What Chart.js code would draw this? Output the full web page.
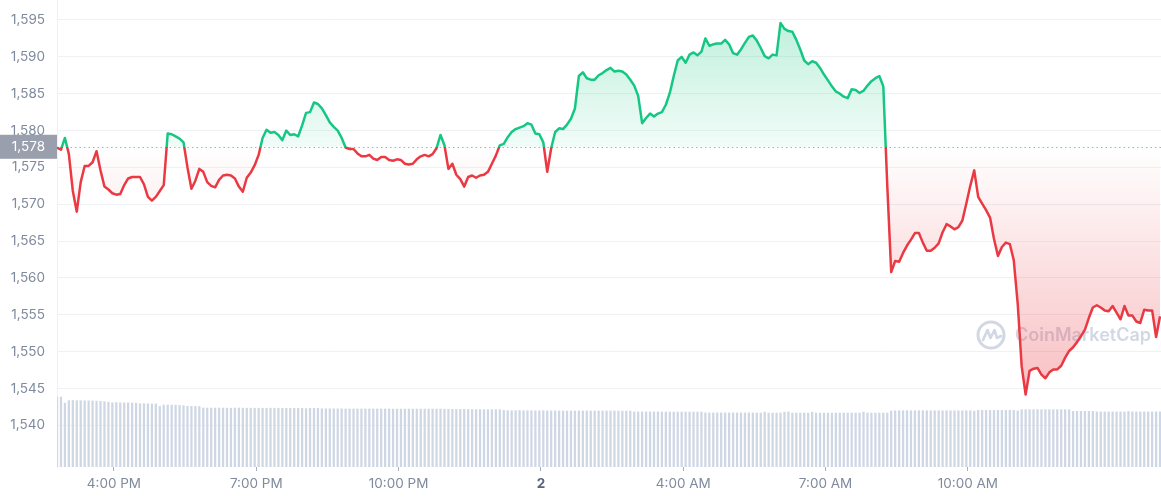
<!DOCTYPE html>
<html>
<head>
<meta charset="utf-8">
<title>ETH price</title>
<script src="https://cdn.jsdelivr.net/npm/chart.js@4.4.0/dist/chart.umd.min.js"></script>
<style>
    html, body { margin: 0; padding: 0; background: #fff; }
    #wrap { width: 1161px; height: 500px; }
</style>
</head>
<body>
<div id="wrap"><canvas id="price-chart" width="1161" height="500"></canvas></div>
<script>
// 5-minute samples starting 2:48 PM (hours counted from midnight of day 1)
const startHour = 14.8;
const stepHours = 5 / 60;

const tickHours = [16, 19, 22, 25, 28, 31, 34];
const tickLabels = ['4:00 PM', '7:00 PM', '10:00 PM', '2', '4:00 AM', '7:00 AM', '10:00 AM'];
const priceTicks = [1540, 1545, 1550, 1555, 1560, 1565, 1570, 1575, 1580, 1585, 1590, 1595];
const openPrice = 1577.8;

const prices = [
    1577.7, 1577.4, 1579.0, 1576.8, 1571.8, 1569.0, 1573.0, 1575.2, 1575.2, 1575.7,
    1577.2, 1574.6, 1572.4, 1572.0, 1571.5, 1571.3, 1571.4, 1572.6, 1573.5, 1573.7,
    1573.7, 1573.7, 1572.7, 1571.0, 1570.5, 1571.0, 1571.8, 1572.6, 1579.6, 1579.5,
    1579.2, 1578.9, 1578.4, 1575.0, 1572.1, 1573.2, 1574.8, 1574.4, 1573.0, 1572.5,
    1572.3, 1573.3, 1573.9, 1574.0, 1573.9, 1573.5, 1572.4, 1571.7, 1573.6, 1574.3,
    1575.3, 1576.7, 1579.0, 1580.1, 1579.7, 1579.8, 1579.4, 1578.7, 1580.0, 1579.4,
    1579.5, 1579.2, 1580.7, 1582.4, 1582.5, 1583.8, 1583.6, 1583.0, 1582.1, 1581.1,
    1580.5, 1580.0, 1579.0, 1577.7, 1577.5, 1577.5, 1576.9, 1576.5, 1576.5, 1576.7,
    1576.2, 1576.0, 1576.4, 1576.4, 1576.0, 1575.9, 1576.1, 1576.0, 1575.5, 1575.4,
    1575.5, 1576.1, 1576.5, 1576.7, 1576.5, 1576.8, 1577.6, 1579.4, 1578.0, 1574.8,
    1575.5, 1574.0, 1573.4, 1572.4, 1573.7, 1573.9, 1573.6, 1573.9, 1574.0, 1574.4,
    1575.5, 1576.6, 1578.0, 1578.2, 1579.1, 1579.8, 1580.2, 1580.4, 1580.6, 1581.0,
    1580.8, 1579.6, 1579.5, 1578.4, 1574.4, 1577.6, 1579.8, 1580.3, 1580.2, 1580.8,
    1581.6, 1583.0, 1587.4, 1587.9, 1587.1, 1586.9, 1586.9, 1587.5, 1587.8, 1588.2,
    1588.5, 1588.0, 1588.1, 1588.0, 1587.6, 1586.9, 1586.1, 1584.7, 1581.0, 1581.7,
    1582.3, 1581.9, 1582.3, 1582.5, 1583.5, 1585.1, 1587.4, 1589.5, 1590.0, 1589.2,
    1590.3, 1590.6, 1590.2, 1590.7, 1592.5, 1591.5, 1591.7, 1591.8, 1591.8, 1592.3,
    1591.7, 1590.5, 1590.3, 1591.0, 1591.9, 1592.7, 1592.9, 1592.2, 1591.2, 1590.1,
    1589.8, 1590.3, 1590.2, 1594.6, 1593.8, 1593.5, 1593.4, 1592.3, 1591.0, 1589.5,
    1589.0, 1589.4, 1589.2, 1588.5, 1587.6, 1586.8, 1586.0, 1585.3, 1585.0, 1584.6,
    1584.4, 1585.6, 1585.5, 1585.1, 1585.4, 1586.1, 1586.7, 1587.1, 1587.4, 1586.0,
    1572.6, 1560.8, 1562.3, 1562.2, 1563.4, 1564.4, 1565.2, 1566.1, 1566.1, 1564.8,
    1563.7, 1563.7, 1564.1, 1564.7, 1566.2, 1567.3, 1567.0, 1566.6, 1566.9, 1567.8,
    1570.1, 1572.5, 1574.6, 1571.0, 1570.1, 1569.2, 1568.2, 1565.3, 1563.0, 1564.2,
    1564.8, 1564.6, 1562.4, 1556.5, 1548.0, 1544.2, 1547.4, 1547.7, 1547.8, 1546.9,
    1546.4, 1547.2, 1547.6, 1547.6, 1548.1, 1549.2, 1550.1, 1550.6, 1551.3, 1552.1,
    1553.0, 1554.6, 1556.0, 1556.3, 1556.0, 1555.6, 1555.5, 1556.2, 1555.3, 1554.4,
    1556.2, 1554.9, 1554.9, 1554.1, 1553.9, 1555.7, 1555.6, 1555.6, 1552.0, 1554.8
];

// 24h volume, billions USD
const volumes = [
    6.02, 6.00, 5.48, 5.68, 5.70, 5.68, 5.68, 5.67, 5.66, 5.66,
    5.64, 5.62, 5.60, 5.55, 5.50, 5.52, 5.50, 5.49, 5.49, 5.48,
    5.47, 5.42, 5.42, 5.41, 5.40, 5.40, 5.19, 5.31, 5.31, 5.30,
    5.30, 5.28, 5.25, 5.20, 5.19, 5.19, 5.18, 5.06, 5.05, 5.05,
    5.05, 5.05, 5.05, 5.04, 5.04, 5.05, 5.05, 5.04, 5.04, 5.04,
    5.04, 5.04, 5.03, 5.03, 5.04, 5.04, 5.03, 5.03, 5.03, 5.02,
    5.02, 5.02, 5.02, 5.00, 5.02, 5.03, 5.02, 4.99, 4.98, 4.98,
    4.98, 4.98, 4.98, 4.97, 4.97, 4.97, 4.97, 4.97, 4.97, 4.97,
    4.97, 4.97, 4.97, 4.97, 4.97, 4.96, 4.96, 4.96, 4.96, 4.96,
    4.96, 4.96, 4.96, 4.96, 4.96, 4.96, 4.96, 4.96, 4.95, 4.95,
    4.93, 4.93, 4.93, 4.93, 4.93, 4.92, 4.92, 4.92, 4.91, 4.91,
    4.91, 4.91, 4.91, 4.85, 4.82, 4.82, 4.82, 4.84, 4.82, 4.82,
    4.82, 4.81, 4.81, 4.82, 4.81, 4.81, 4.81, 4.80, 4.80, 4.80,
    4.80, 4.80, 4.80, 4.80, 4.80, 4.80, 4.80, 4.80, 4.80, 4.80,
    4.80, 4.80, 4.79, 4.79, 4.79, 4.79, 4.72, 4.72, 4.72, 4.72,
    4.72, 4.72, 4.72, 4.71, 4.71, 4.71, 4.71, 4.71, 4.71, 4.71,
    4.71, 4.71, 4.71, 4.71, 4.63, 4.63, 4.63, 4.63, 4.63, 4.63,
    4.63, 4.63, 4.63, 4.63, 4.63, 4.63, 4.63, 4.62, 4.62, 4.70,
    4.62, 4.62, 4.62, 4.62, 4.70, 4.71, 4.62, 4.62, 4.62, 4.62,
    4.62, 4.70, 4.62, 4.62, 4.62, 4.62, 4.62, 4.62, 4.62, 4.62,
    4.62, 4.62, 4.62, 4.62, 4.70, 4.62, 4.62, 4.62, 4.62, 4.62,
    4.62, 4.80, 4.82, 4.82, 4.82, 4.82, 4.82, 4.82, 4.82, 4.82,
    4.82, 4.82, 4.82, 4.82, 4.82, 4.82, 4.82, 4.82, 4.82, 4.82,
    4.82, 4.82, 4.78, 4.85, 4.85, 4.85, 4.85, 4.85, 4.85, 4.85,
    4.85, 4.85, 4.85, 4.80, 4.91, 4.91, 4.91, 4.91, 4.91, 4.91,
    4.91, 4.91, 4.91, 4.91, 4.91, 4.91, 4.91, 4.77, 4.77, 4.77,
    4.77, 4.77, 4.76, 4.72, 4.72, 4.72, 4.72, 4.72, 4.72, 4.72,
    4.72, 4.76, 4.72, 4.72, 4.72, 4.72, 4.72, 4.72, 4.72, 4.72
];

const GREEN = '#16c784';
const RED = '#ea3943';
const AXIS_TEXT = '#808a9d';

Chart.defaults.font.family = 'Inter, "Noto Sans", sans-serif';
Chart.defaults.font.size = 13.5;

const times = prices.map((p, i) => startHour + i * stepHours);

function splitStops(chart, top, bottom) {
    const {ctx, chartArea, scales} = chart;
    const base = scales.y.getPixelForValue(openPrice);
    const f = Math.min(Math.max((base - chartArea.top) / (chartArea.bottom - chartArea.top), 0), 1);
    const g = ctx.createLinearGradient(0, chartArea.top, 0, chartArea.bottom);
    top.forEach(([pos, color]) => g.addColorStop(pos * f, color));
    bottom.forEach(([pos, color]) => g.addColorStop(f + pos * (1 - f), color));
    return g;
}

function lineColor(context) {
    const chart = context.chart;
    if (!chart.chartArea) return GREEN;
    return splitStops(chart, [[0, GREEN], [1, GREEN]], [[0, RED], [1, RED]]);
}

function areaColor(context) {
    const chart = context.chart;
    if (!chart.chartArea) return 'rgba(0,0,0,0)';
    return splitStops(chart,
        [[0, 'rgba(22,199,132,0.30)'], [1, 'rgba(22,199,132,0.06)']],
        [[0, 'rgba(234,57,67,0.0)'], [0.72, 'rgba(234,57,67,0.30)'], [1, 'rgba(234,57,67,0.30)']]);
}

const baselinePlugin = {
    id: 'baseline',
    beforeDatasetsDraw(chart) {
        const {ctx, chartArea, scales} = chart;
        const y = Math.round(scales.y.getPixelForValue(openPrice)) + 0.5;
        ctx.save();
        ctx.strokeStyle = '#a6b0c3';
        ctx.lineWidth = 1;
        ctx.setLineDash([1.5, 3]);
        ctx.beginPath();
        ctx.moveTo(chartArea.left, y);
        ctx.lineTo(chartArea.right, y);
        ctx.stroke();
        ctx.restore();
    },
    afterDraw(chart) {
        const {ctx, chartArea, scales} = chart;
        const y = scales.y.getPixelForValue(openPrice);
        ctx.save();
        ctx.fillStyle = '#999fac';
        ctx.fillRect(0, y - 12, chartArea.left, 24);
        ctx.fillStyle = '#ffffff';
        ctx.font = '13.5px Inter, "Noto Sans", sans-serif';
        ctx.textAlign = 'right';
        ctx.textBaseline = 'middle';
        ctx.fillText(Math.round(openPrice).toLocaleString('en-US'), chartArea.left - 12, y);
        ctx.restore();
    }
};

const watermarkPlugin = {
    id: 'watermark',
    beforeDatasetsDraw(chart) {
        const {ctx, chartArea} = chart;
        const cx = chartArea.right - 170, cy = 335;
        ctx.save();
        ctx.globalAlpha = 0.5;
        ctx.strokeStyle = '#a3b1c9';
        ctx.fillStyle = '#a3b1c9';
        ctx.lineWidth = 3;
        ctx.lineJoin = 'round';
        ctx.lineCap = 'round';
        ctx.beginPath();
        ctx.arc(cx, cy, 13, 0, Math.PI * 2);
        ctx.stroke();
        ctx.lineWidth = 2.6;
        ctx.beginPath();
        ctx.moveTo(cx - 8, cy + 5);
        ctx.lineTo(cx - 3.5, cy - 5);
        ctx.lineTo(cx - 0.5, cy + 3);
        ctx.lineTo(cx + 3.5, cy - 5);
        ctx.lineTo(cx + 6, cy + 3);
        ctx.lineTo(cx + 10, cy + 1);
        ctx.stroke();
        ctx.font = '600 18px Inter, "Noto Sans", sans-serif';
        ctx.textAlign = 'left';
        ctx.textBaseline = 'middle';
        ctx.fillText('CoinMarketCap', cx + 24, cy + 1);
        ctx.restore();
    }
};

new Chart(document.getElementById('price-chart'), {
    type: 'bar',
    data: {
        labels: times,
        datasets: [
            {
                type: 'line',
                label: 'Price',
                data: prices,
                yAxisID: 'y',
                order: 0,
                borderColor: lineColor,
                backgroundColor: areaColor,
                borderWidth: 2.5,
                borderJoinStyle: 'round',
                pointRadius: 0,
                tension: 0,
                fill: {value: openPrice}
            },
            {
                type: 'bar',
                label: 'Volume',
                data: volumes,
                yAxisID: 'yVol',
                order: 1,
                backgroundColor: '#cfd6e4',
                barThickness: 1.6
            }
        ]
    },
    options: {
        responsive: false,
        animation: false,
        layout: {padding: 0},
        plugins: {
            legend: {display: false},
            tooltip: {enabled: false}
        },
        scales: {
            x: {
                type: 'linear',
                min: startHour,
                max: 38.07,
                offset: false,
                afterBuildTicks: axis => { axis.ticks = tickHours.map(v => ({value: v})); },
                afterFit: axis => { axis.height = 33; axis.paddingLeft = 0; axis.paddingRight = 0; },
                ticks: {
                    autoSkip: false,
                    maxRotation: 0,
                    padding: 5,
                    callback: (value, index) => tickLabels[index],
                    color: ctx => tickLabels[ctx.index] === '2' ? '#58667e' : AXIS_TEXT,
                    font: ctx => tickLabels[ctx.index] === '2' ? {weight: 'bold', size: 13.5} : {size: 13.5}
                },
                grid: {
                    offset: false,
                    drawOnChartArea: false,
                    drawTicks: true,
                    tickLength: 4,
                    color: '#a6b0c3'
                },
                border: {display: false}
            },
            y: {
                position: 'left',
                min: 1534.36,
                max: 1597.71,
                afterBuildTicks: axis => { axis.ticks = priceTicks.map(v => ({value: v})); },
                afterFit: axis => { axis.width = 57; axis.paddingTop = 0; axis.paddingBottom = 0; },
                ticks: {
                    padding: 12,
                    color: AXIS_TEXT,
                    callback: value => value.toLocaleString('en-US')
                },
                grid: {color: '#eff2f5', drawTicks: false},
                border: {display: true, color: '#eff2f5'}
            },
            yVol: {
                display: false,
                min: 0,
                max: 40
            }
        }
    },
    plugins: [baselinePlugin, watermarkPlugin]
});
</script>
</body>
</html>
